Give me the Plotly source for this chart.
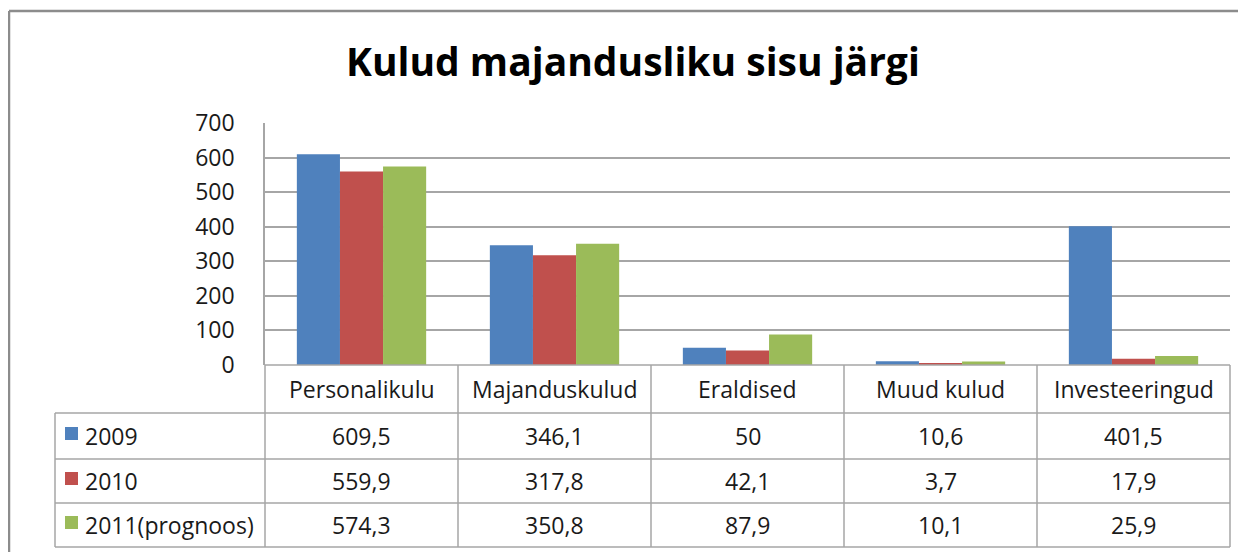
import plotly.graph_objects as go

categories = ["Personalikulu", "Majanduskulud", "Eraldised", "Muud kulud", "Investeeringud"]
series_names = ["2009", "2010", "2011(prognoos)"]
v2009 = [609.5, 346.1, 50, 10.6, 401.5]
v2010 = [559.9, 317.8, 42.1, 3.7, 17.9]
v2011 = [574.3, 350.8, 87.9, 10.1, 25.9]
series_values = [v2009, v2010, v2011]
colors = ["#4F81BD", "#C0504D", "#9BBB59"]
title = "Kulud majandusliku sisu järgi"
y_ticks = [0, 100, 200, 300, 400, 500, 600, 700]

W, H = 1246, 552
OFF = 8  # page body margin
FONT = "Open Sans"
TXT = "#1a1a1a"
LINE = "#A6A6A6"

def px(x):
    return (x - OFF) / W

def py(y):
    return 1 - (y - OFF) / H

def fmt(v):
    return ("%g" % v).replace(".", ",")

fig = go.Figure()
for name, vals, c in zip(series_names, series_values, colors):
    fig.add_trace(go.Bar(x=categories, y=vals, name=name, marker=dict(color=c, line=dict(width=0))))

x0, x1 = 265, 1230
y_top, y_axis = 123, 365
row_lines = [365, 413, 459, 503, 547]
left_x = 55

shapes = []
shapes.append(dict(type="line", xref="paper", yref="paper", x0=px(9), x1=px(9), y0=py(11), y1=0,
                   line=dict(color="#8C8C8C", width=2.5)))
shapes.append(dict(type="line", xref="paper", yref="paper", x0=px(9), x1=1, y0=py(11), y1=py(11),
                   line=dict(color="#8C8C8C", width=2.5)))
for i, yy in enumerate(row_lines):
    xs = x0 if i == 0 else left_x
    shapes.append(dict(type="line", xref="paper", yref="paper", x0=px(xs), x1=px(x1), y0=py(yy), y1=py(yy),
                       line=dict(color=LINE, width=1.5)))
ncat = len(categories)
for k in range(ncat + 1):
    xx = x0 + (x1 - x0) * k / ncat
    shapes.append(dict(type="line", xref="paper", yref="paper", x0=px(xx), x1=px(xx), y0=py(row_lines[0]), y1=py(row_lines[-1]),
                       line=dict(color=LINE, width=1.5)))
shapes.append(dict(type="line", xref="paper", yref="paper", x0=px(left_x), x1=px(left_x), y0=py(row_lines[1]), y1=py(row_lines[-1]),
                   line=dict(color=LINE, width=1.5)))

annotations = []
FS = 23
for k, cat in enumerate(categories):
    xc = x0 + (x1 - x0) * (k + 0.5) / ncat
    annotations.append(dict(x=px(xc), y=py((row_lines[0] + row_lines[1]) / 2), xref="paper", yref="paper",
                            text=cat, showarrow=False, font=dict(family=FONT, size=FS, color=TXT),
                            xanchor="center", yanchor="middle"))
for r, (name, vals, c) in enumerate(zip(series_names, series_values, colors)):
    yc = (row_lines[r + 1] + row_lines[r + 2]) / 2
    shapes.append(dict(type="rect", xref="paper", yref="paper", x0=px(65), x1=px(78), y0=py(yc - 9), y1=py(yc + 4),
                       fillcolor=c, line=dict(width=0)))
    annotations.append(dict(x=px(83), y=py(yc), xref="paper", yref="paper", text=name, showarrow=False,
                            font=dict(family=FONT, size=FS, color=TXT), xanchor="left", yanchor="middle"))
    for k, v in enumerate(vals):
        xc = x0 + (x1 - x0) * (k + 0.5) / ncat
        annotations.append(dict(x=px(xc), y=py(yc), xref="paper", yref="paper", text=fmt(v), showarrow=False,
                                font=dict(family=FONT, size=FS, color=TXT), xanchor="center", yanchor="middle"))
annotations.append(dict(x=px(633), y=py(61), xref="paper", yref="paper", text="<b>" + title + "</b>", showarrow=False,
                        font=dict(family=FONT, size=39, color="#000000"), xanchor="center", yanchor="middle"))

fig.update_layout(
    width=W, height=H,
    margin=dict(l=0, r=0, t=0, b=0, autoexpand=False),
    paper_bgcolor="white", plot_bgcolor="white",
    showlegend=False,
    barmode="group", bargap=0.33, bargroupgap=0,
    shapes=shapes, annotations=annotations,
    xaxis=dict(domain=[px(x0), px(x1)], range=[-0.5, 4.5], showticklabels=False, showgrid=False,
               zeroline=False, showline=False, fixedrange=True),
    yaxis=dict(domain=[py(y_axis), py(y_top)], range=[0, 700], tickvals=y_ticks, showgrid=True,
               gridcolor=LINE, gridwidth=1.5, zeroline=False, showline=True, linecolor=LINE, linewidth=1.5,
               ticks="", ticklabelstandoff=24, tickfont=dict(family=FONT, size=FS, color=TXT), fixedrange=True),
)

fig.write_html("out.html")
